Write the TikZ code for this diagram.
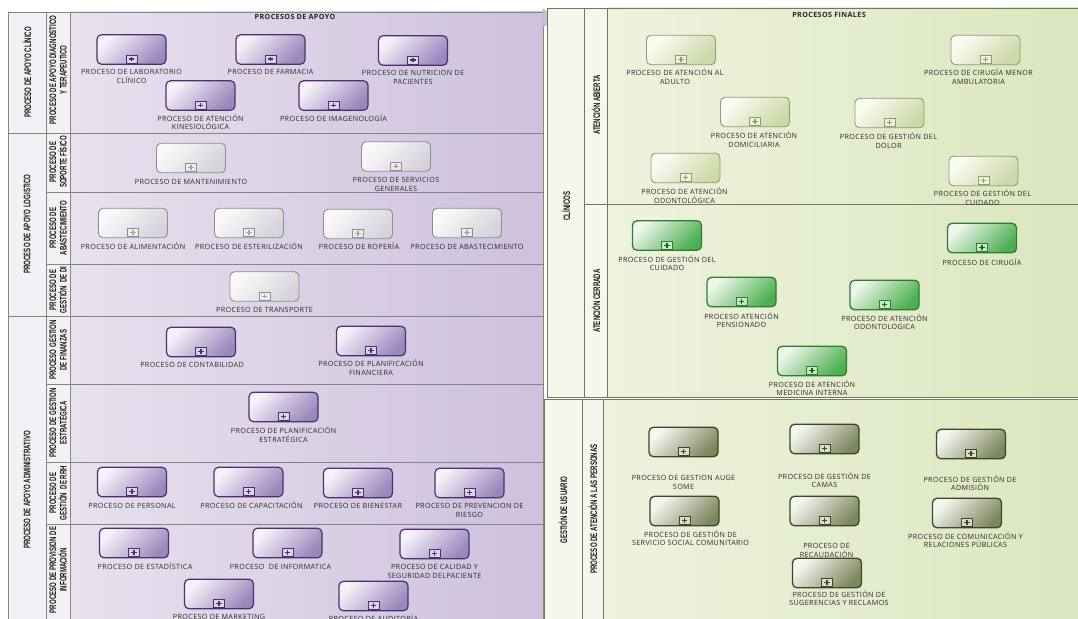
\documentclass[tikz,border=0pt]{standalone}
\usepackage{fontspec}
\newfontfamily\lblfont{Open Sans}[LetterSpace=5]
\newfontfamily\lanefont{Liberation Sans}[FakeStretch=0.64]

% pools and lanes
\definecolor{pline}{HTML}{858585}
\definecolor{pcol}{HTML}{F3F0F6}
\definecolor{pbgL}{HTML}{E8E1EF}
\definecolor{pbgR}{HTML}{CDC1DD}
\definecolor{gline}{HTML}{6E7A5A}
\definecolor{gcol}{HTML}{F4F7EC}
\definecolor{gbgL}{HTML}{EEF3DE}
\definecolor{gbgR}{HTML}{DAE6BE}
\definecolor{tri}{HTML}{CAC2D9}
\definecolor{lbltext}{HTML}{2A2A2A}
% task colours
\definecolor{pbd}{HTML}{4E2F72}
\definecolor{pfa}{HTML}{F5F2F9}
\definecolor{pfb}{HTML}{9C87BC}
\definecolor{pmk}{HTML}{DCD3E8}
\definecolor{gbd}{HTML}{8E8E8E}
\definecolor{gfa}{HTML}{FAFAFA}
\definecolor{gfb}{HTML}{D6D2DB}
\definecolor{gmk}{HTML}{EEEEEE}
\definecolor{abd}{HTML}{8E9D6E}
\definecolor{afa}{HTML}{FAFCF4}
\definecolor{afb}{HTML}{CCD8A8}
\definecolor{amk}{HTML}{EEF2E2}
\definecolor{cbd}{HTML}{2E7D32}
\definecolor{cfa}{HTML}{EEF6EC}
\definecolor{cfb}{HTML}{4CAF50}
\definecolor{cmk}{HTML}{C8E6C9}
\definecolor{cpl}{HTML}{1B5E20}
\definecolor{ubd}{HTML}{3C4727}
\definecolor{ufa}{HTML}{F6F6F1}
\definecolor{ufb}{HTML}{7C875E}
\definecolor{umk}{HTML}{D9DDCC}

\tikzset{
  pl/.style={draw=pline, line width=0.8pt},
  gl/.style={draw=gline, line width=0.8pt},
  box/.style={rounded corners=4.5pt, minimum width=69pt, minimum height=29.5pt, inner sep=0pt},
  mk/.style={anchor=south, minimum width=11pt, minimum height=8pt, inner sep=0pt, line width=1pt},
  lbl/.style={font=\lblfont\fontsize{7.2}{8.2}\selectfont, text=lbltext, align=center, anchor=north, inner sep=0pt},
  lane/.style={font=\lanefont\bfseries\fontsize{9.5}{10.5}\selectfont, rotate=90, align=center, inner sep=0pt, text=black!90},
  ttl/.style={font=\lblfont\bfseries\fontsize{7.2}{8}\selectfont, text=black!85, inner sep=0pt},
  ptask/.style={draw=pbd, line width=1.2pt, top color=pfa, bottom color=pfb, shading angle=45},
  ptask mark/.style={draw=pbd, fill=pmk},
  ptask plus/.style={draw=pbd, line width=1.3pt},
  gtask/.style={draw=gbd, line width=0.9pt, top color=gfa, bottom color=gfb, shading angle=45},
  gtask mark/.style={draw=gbd, fill=gmk, line width=0.8pt},
  gtask plus/.style={draw=gbd!80, line width=1.1pt},
  atask/.style={draw=abd, line width=0.9pt, top color=afa, bottom color=afb, shading angle=45},
  atask mark/.style={draw=abd, fill=amk, line width=0.8pt},
  atask plus/.style={draw=abd, line width=1.1pt},
  ctask/.style={draw=cbd, line width=1.3pt, top color=cfa, bottom color=cfb, shading angle=45},
  ctask mark/.style={draw=cbd, fill=cmk},
  ctask plus/.style={draw=cpl, line width=1.3pt},
  utask/.style={draw=ubd, line width=1.3pt, top color=ufa, bottom color=ufb, shading angle=45},
  utask mark/.style={draw=ubd, fill=umk},
  utask plus/.style={draw=ubd, line width=1.3pt},
}

% sub-process: name, style, centre x, centre y, label x shift, label gap, label
\newcommand\proc[7]{%
  \node[box,#2] (#1) at (#3,#4) {};
  \node[mk,#2 mark] (#1-m) at ([yshift=1.2pt]#1.south) {};
  \draw[#2 plus] ([xshift=-2.6pt]#1-m.center) -- ([xshift=2.6pt]#1-m.center)
                 ([yshift=-2.3pt]#1-m.center) -- ([yshift=2.3pt]#1-m.center);
  \node[lbl] (#1-t) at ([xshift=#5pt,yshift=-#6pt]#1.south) {\rule{0pt}{6.6pt}#7};
}

\begin{document}
\begin{tikzpicture}[x=1pt,y=-1pt]
\useasboundingbox (0,0) rectangle (1078,618);
\clip (0,0) rectangle (1078,618);
\fill[white] (0,0) rectangle (1078,618);

% ---- PROCESOS DE APOYO ----
\shade[left color=pbgL, right color=pbgR] (70,12) rectangle (543,640);
\fill[pcol] (8,12) rectangle (70,640);
\draw[pl] (8,12) rectangle (543,640);
\draw[pl] (46,12) -- (46,640) (70,12) -- (70,640);
\draw[pl] (8,133) -- (543,133) (8,316) -- (543,316);
\draw[pl] (46,192) -- (543,192) (46,264) -- (543,264)
          (46,384) -- (543,384) (46,462) -- (543,462) (46,524) -- (543,524);
\filldraw[fill=tri, draw=pline!70, line width=0.5pt] (543,9) -- (556,18) -- (543,27) -- cycle;

% ---- PROCESOS FINALES ----
\fill[gcol] (547,8) rectangle (607,397);
\shade[left color=gbgL, right color=gbgR] (607,8) rectangle (1090,397);
\draw[gl] (547,8) rectangle (1090,397);
\draw[gl] (584,8) -- (584,397) (607,8) -- (607,397) (584,204) -- (1090,204);

% ---- GESTION DE USUARIO ----
\fill[gcol] (544,399) rectangle (603,640);
\shade[left color=gbgL, right color=gbgR] (603,399) rectangle (1090,640);
\draw[gl] (544,399) rectangle (1090,640);
\draw[gl] (582,399) -- (582,640) (603,399) -- (603,640);

% titles
\node[ttl] (t-apoyo) at (295,17) {PROCESOS DE APOYO};
\node[ttl] (t-fin) at (829,15) {PROCESOS FINALES};

% lane names
\node[lane] (l-clin) at (27,72.5) {PROCESO DE APOYO CLÍNICO};
\node[lane] (l-diag) at (58,70) {PROCESO DE APOYO DIAGNOSTICO\\Y TERAPEUTICO};
\node[lane] (l-logi) at (27,224) {PROCESO DE APOYO LOGISTICO};
\node[lane] (l-sopo) at (58,162) {PROCESO DE\\SOPORTE FÍSICO};
\node[lane] (l-abas) at (58,228) {PROCESO DE\\ABASTECIMIENTO};
\node[lane] (l-dist) at (58,290) {PROCESO DE\\GESTIÓN\ \ DE DI};
\node[lane] (l-admi) at (27,490) {PROCESO DE APOYO ADMINISTRATIVO};
\node[lane] (l-fina) at (58,350) {PROCESO GESTION\\DE FINANZAS};
\node[lane] (l-estr) at (58,423) {PROCESO DE GESTION\\ESTRATÉGICA};
\node[lane] (l-rrhh) at (58,493) {PROCESO DE\\GESTIÓN\ \ DE RRH};
\node[lane] (l-info) at (58,570) {PROCESO DE PROVISION DE\\INFORMACIÓN};
\node[lane] (l-clis) at (566,206) {CLÍNICOS};
\node[lane] (l-abie) at (596,105) {ATENCIÓN ABIERTA};
\node[lane] (l-cerr) at (596,301) {ATENCIÓN CERRADA};
\node[lane] (l-usua) at (563,510) {GESTIÓN DE USUARIO};
\node[lane] (l-pers) at (593,509) {PROCESO DE ATENCIÓN A LAS PERSONAS};

% apoyo clinico
\proc{lab}{ptask}{131.5}{49.5}{0}{3.3}{PROCESO DE LABORATORIO\\CLÍNICO}
\proc{farm}{ptask}{270.5}{49.5}{0}{3.3}{PROCESO DE FARMACIA}
\proc{nutr}{ptask}{413}{50.5}{0}{3.3}{PROCESO DE NUTRICION DE\\PACIENTES}
\proc{kine}{ptask}{200.5}{95.5}{0}{3.3}{PROCESO DE ATENCIÓN\\KINESIOLÓGICA}
\proc{imag}{ptask}{333.5}{95.5}{0}{3.3}{PROCESO DE IMAGENOLOGÍA}

% apoyo logistico
\proc{mant}{gtask}{191}{158}{0}{4.7}{PROCESO DE MANTENIMIENTO}
\proc{serv}{gtask}{396}{156.5}{0}{4.3}{PROCESO DE SERVICIOS\\GENERALES}
\proc{alim}{gtask}{133}{223}{0}{4.7}{PROCESO DE ALIMENTACIÓN}
\proc{este}{gtask}{249}{223}{0}{4.7}{PROCESO DE ESTERILIZACIÓN}
\proc{ropa}{gtask}{358}{224}{1}{3.7}{PROCESO DE ROPERÍA}
\proc{abas}{gtask}{467}{223}{0}{4.7}{PROCESO DE ABASTECIMIENTO}
\proc{tran}{gtask}{264.5}{286.5}{0}{4.3}{PROCESO DE TRANSPORTE}

% apoyo administrativo
\proc{cont}{ptask}{201}{342}{-9}{3.7}{PROCESO DE CONTABILIDAD}
\proc{plfi}{ptask}{371}{341}{0}{3.7}{PROCESO DE PLANIFICACIÓN\\FINANCIERA}
\proc{ples}{ptask}{283.5}{407}{0}{4.7}{PROCESO DE PLANIFICACIÓN\\ESTRATÉGICA}
\proc{pers}{ptask}{132}{482}{0}{4.7}{PROCESO DE PERSONAL}
\proc{capa}{ptask}{248.5}{482}{3}{4.7}{PROCESO DE CAPACITACIÓN}
\proc{bien}{ptask}{358}{483}{0}{3.7}{PROCESO DE BIENESTAR}
\proc{prev}{ptask}{469.5}{483}{0}{3.7}{PROCESO DE PREVENCION DE\\RIESGO}
\proc{esta}{ptask}{134}{543}{11}{4.7}{PROCESO DE ESTADÍSTICA}
\proc{info}{ptask}{287.5}{543}{-7}{4.7}{PROCESO\ \ DE INFORMATICA}
\proc{cali}{ptask}{434.5}{544}{0}{3.7}{PROCESO DE CALIDAD Y\\SEGURIDAD DELPACIENTE}
\proc{mkt}{ptask}{219}{594}{0}{3.7}{PROCESO DE MARKETING}
\proc{audi}{ptask}{373.5}{596}{0}{3.7}{PROCESO DE AUDITORÍA}

% atencion abierta
\proc{adul}{atask}{681}{50}{-6}{3.7}{PROCESO DE ATENCIÓN AL\\ADULTO}
\proc{cmen}{atask}{985.5}{50}{-7}{3.7}{PROCESO DE CIRUGÍA MENOR\\AMBULATORIA}
\proc{domi}{atask}{755}{112}{-1}{4.7}{PROCESO DE ATENCIÓN\\DOMICILIARIA}
\proc{dolo}{atask}{889.5}{113}{-1}{4.7}{PROCESO DE GESTIÓN DEL\\DOLOR}
\proc{odon}{atask}{685.5}{168}{-1}{4.7}{PROCESO DE ATENCIÓN\\ODONTOLÓGICA}
\proc{acui}{atask}{983.5}{171}{-1}{3.7}{PROCESO DE GESTIÓN DEL\\CUIDADO}

% atencion cerrada
\proc{ccui}{ctask}{667}{235.5}{0}{4.3}{PROCESO DE GESTIÓN DEL\\CUIDADO}
\proc{ciru}{ctask}{982}{238}{0}{4.7}{PROCESO DE CIRUGÍA}
\proc{pens}{ctask}{741.5}{292}{0}{4.7}{PROCESO ATENCIÓN\\PENSIONADO}
\proc{codo}{ctask}{884.5}{295}{0}{3.7}{PROCESO DE ATENCIÓN\\ODONTOLOGICA}
\proc{medi}{ctask}{812}{361}{0}{3.7}{PROCESO DE ATENCIÓN\\MEDICINA INTERNA}

% atencion a las personas
\proc{auge}{utask}{683.5}{442}{0}{16.7}{PROCESO DE GESTION AUGE\\SOME}
\proc{cama}{utask}{824.5}{439}{0}{17.7}{PROCESO DE GESTIÓN DE\\CAMAS}
\proc{admi}{utask}{971}{444}{-1}{15.7}{PROCESO DE GESTIÓN DE\\ADMISIÓN}
\proc{soci}{utask}{684.5}{511}{6}{3.7}{PROCESO DE GESTIÓN DE\\SERVICIO SOCIAL COMUNITARIO}
\proc{reca}{utask}{824.5}{511}{2}{15.7}{PROCESO DE\\RECAUDACIÓN}
\proc{comu}{utask}{967}{513}{-1.5}{3.7}{PROCESO DE COMUNICACIÓN Y\\RELACIONES PÚBLICAS}
\proc{suge}{utask}{827}{573}{12}{1.7}{PROCESO DE GESTIÓN DE\\SUGERENCIAS Y RECLAMOS}
\end{tikzpicture}
\end{document}
